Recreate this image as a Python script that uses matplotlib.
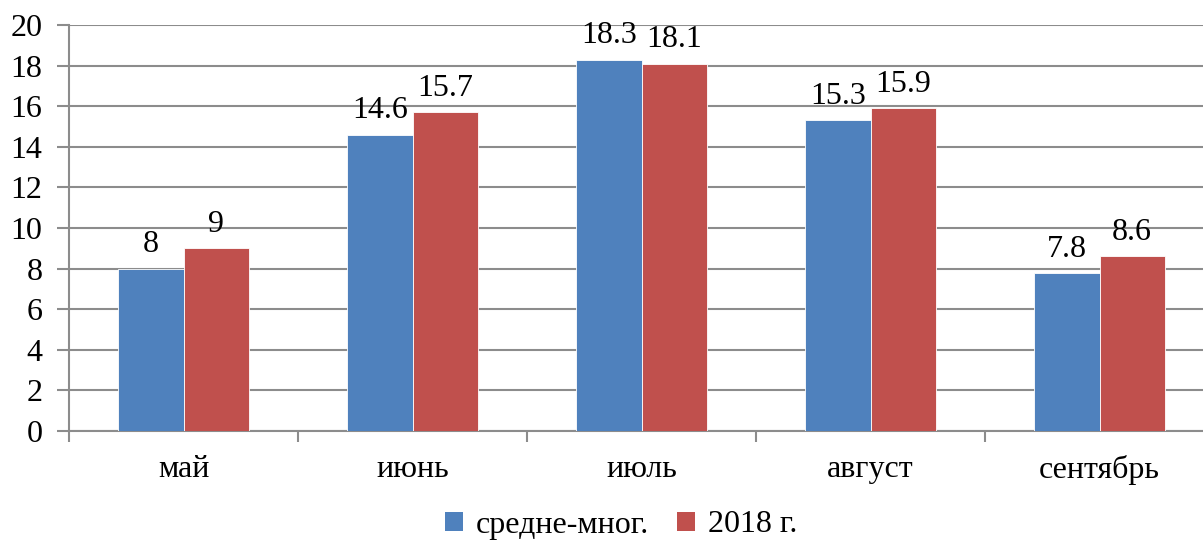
import numpy as np
import matplotlib
matplotlib.use("Agg")
import matplotlib.pyplot as plt
from matplotlib.patches import Patch

plt.rcParams.update({"font.family": "Liberation Serif", "font.size": 23})

months = ["май", "июнь", "июль", "август", "сентябрь"]
avg_long = [8, 14.6, 18.3, 15.3, 7.8]
year_2018 = [9, 15.7, 18.1, 15.9, 8.6]
series_names = ["средне-мног.", "2018 г."]
colors = ["#4f81bd", "#c0504d"]

fig = plt.figure(figsize=(12.03, 5.45), dpi=100)
# plot area runs a little past the right edge of the canvas
ax = fig.add_axes([69 / 1203, 1 - 431 / 545, 1145 / 1203, 406 / 545])

x = np.arange(len(months))
w = 1 / 3.5
for k, (vals, c) in enumerate(zip([avg_long, year_2018], colors)):
    bars = ax.bar(x + (k - 0.5) * w, vals, width=w, color=c, edgecolor="white",
                  linewidth=0.6, zorder=3)
    for b, v in zip(bars, vals):
        ax.text(b.get_x() + b.get_width() / 2, v + 0.45, f"{v:g}",
                ha="center", va="bottom", fontsize=23)

ax.set_xlim(-0.5, len(months) - 0.5)
ax.set_ylim(0, 20)
ax.set_yticks(range(0, 21, 2))
ax.yaxis.grid(True, color="#8c8c8c", linewidth=1.5, zorder=0)
ax.tick_params(axis="y", length=9, width=1.5, color="#8c8c8c", pad=10)

ax.set_xticks(x, months)
ax.set_xticks(np.arange(-0.5, len(months), 1), minor=True)
ax.tick_params(axis="x", which="major", length=0, pad=17)
ax.tick_params(axis="x", which="minor", length=8, width=1.5, color="#8c8c8c")

for s in ("top", "right"):
    ax.spines[s].set_visible(False)
for s in ("left", "bottom"):
    ax.spines[s].set_color("#8c8c8c")
    ax.spines[s].set_linewidth(1.5)

handles = [Patch(facecolor=c, label=n) for c, n in zip(colors, series_names)]
fig.legend(handles=handles, loc="center", bbox_to_anchor=(621 / 1203, 1 - 525 / 545), ncol=2,
           frameon=False, fontsize=23, handlelength=0.55, handleheight=0.55,
           handletextpad=0.4, columnspacing=0.9)

fig.savefig("out.png", dpi=100)
